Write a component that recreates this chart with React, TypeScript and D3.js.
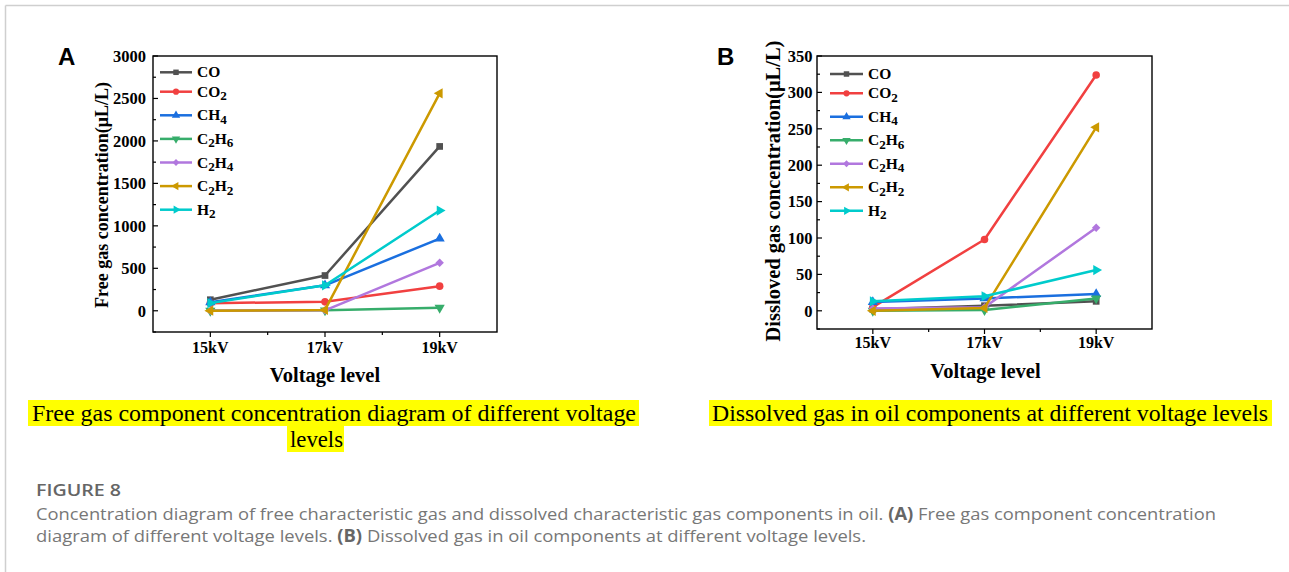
import React from 'react';
import * as d3 from 'd3';

// voltage levels (kV) and tick labels
const voltages = [15, 17, 19];
const xTickLabels = ['15kV', '17kV', '19kV'];
const gasNames = ['CO', 'CO2', 'CH4', 'C2H6', 'C2H4', 'C2H2', 'H2'];
const gasColors = ['#515151', '#F14040', '#1A6FDF', '#37AD6B', '#B177DE', '#CC9900', '#00CBCC'];

// free gas concentration (uL/L), panel A
const freeCO = [130, 415, 1935];
const freeCO2 = [90, 105, 290];
const freeCH4 = [100, 300, 850];
const freeC2H6 = [0, 5, 35];
const freeC2H4 = [0, 5, 565];
const freeC2H2 = [0, 10, 2560];
const freeH2 = [90, 300, 1180];
const freeYTicks = [0, 500, 1000, 1500, 2000, 2500, 3000];

// dissolved gas concentration (uL/L), panel B
const dissCO = [2, 7, 13];
const dissCO2 = [5, 98, 324];
const dissCH4 = [12, 17, 23];
const dissC2H6 = [0, 1, 17];
const dissC2H4 = [3, 5, 114];
const dissC2H2 = [0, 4, 252];
const dissH2 = [13, 20, 56];
const dissYTicks = [0, 50, 100, 150, 200, 250, 300, 350];

const freeSeries = [freeCO, freeCO2, freeCH4, freeC2H6, freeC2H4, freeC2H2, freeH2];
const dissSeries = [dissCO, dissCO2, dissCH4, dissC2H6, dissC2H4, dissC2H2, dissH2];

const serif = '"Liberation Serif", "Times New Roman", serif';

// marker: symbol type + rotation
const markers = [
  { type: d3.symbolSquare, rot: 0 },
  { type: d3.symbolCircle, rot: 0 },
  { type: d3.symbolTriangle, rot: 0 },
  { type: d3.symbolTriangle, rot: 180 },
  { type: d3.symbolDiamond2, rot: 0 },
  { type: d3.symbolTriangle, rot: -90 },
  { type: d3.symbolTriangle, rot: 90 },
];

function GasLabel({ name, x, y, size }) {
  // digits become subscripts
  const parts = name.match(/[A-Z][a-z]?|\d+/g) || [];
  let sub = false;
  return (
    <text x={x} y={y} fontFamily={serif} fontWeight="bold" fontSize={size}>
      {parts.map((p, i) => {
        const isNum = /\d/.test(p);
        const dy = isNum && !sub ? 3.5 : !isNum && sub ? -3.5 : 0;
        sub = isNum;
        return (
          <tspan key={i} dy={dy} fontSize={isNum ? size * 0.85 : size}>{p}</tspan>
        );
      })}
    </text>
  );
}

function Panel({ series, yDomain, yTicks, box, yTitle, yTitleSize, yTitlePos, xTitlePos, letter, letterX, legend, yLabelGap, xLabelBase }) {
  const x = d3.scaleLinear().domain([14, 20]).range([box.left, box.right]);
  const y = d3.scaleLinear().domain(yDomain).range([box.bottom, box.top]);
  const step = yTicks[1] - yTicks[0];
  const yMinor = d3.range(yDomain[0], yDomain[1] + 1, step / 2).filter(v => !yTicks.includes(v));
  const line = d3.line().x((d, i) => x(voltages[i])).y(d => y(d));

  return (
    <g>
      <text x={letterX} y={65} fontFamily='"Liberation Sans", Arial, sans-serif' fontWeight="bold" fontSize={24}>{letter}</text>

      {series.map((s, k) => (
        <g key={k}>
          <path d={line(s)} fill="none" stroke={gasColors[k]} strokeWidth={2.5} strokeLinejoin="round" />
          {s.map((v, i) => (
            <path key={i}
              d={d3.symbol().type(markers[k].type).size(45)()}
              transform={`translate(${x(voltages[i])},${y(v)}) rotate(${markers[k].rot})`}
              fill={gasColors[k]} />
          ))}
        </g>
      ))}

      {/* frame */}
      <rect x={box.left} y={box.top} width={box.right - box.left} height={box.bottom - box.top}
        fill="none" stroke="#000" strokeWidth={1.4} />

      {/* y ticks (inward) */}
      {yTicks.map(v => (
        <g key={v}>
          <line x1={box.left} x2={box.left + 5} y1={y(v)} y2={y(v)} stroke="#000" strokeWidth={1.2} />
          <text x={box.left - yLabelGap} y={y(v)} dy="0.35em" textAnchor="end" fontFamily={serif} fontWeight="bold" fontSize={16.5}>{v}</text>
        </g>
      ))}
      {yMinor.map(v => (
        <line key={'m' + v} x1={box.left} x2={box.left + 3} y1={y(v)} y2={y(v)} stroke="#000" strokeWidth={1.2} />
      ))}

      {/* x ticks (outward) */}
      {voltages.map((v, i) => (
        <g key={v}>
          <line x1={x(v)} x2={x(v)} y1={box.bottom} y2={box.bottom + 5} stroke="#000" strokeWidth={1.2} />
          <text x={x(v)} y={xLabelBase} textAnchor="middle" fontFamily={serif} fontWeight="bold" fontSize={16}>{xTickLabels[i]}</text>
        </g>
      ))}
      {[16, 18].map(v => (
        <line key={v} x1={x(v)} x2={x(v)} y1={box.bottom} y2={box.bottom + 3} stroke="#000" strokeWidth={1.2} />
      ))}

      <text transform={`translate(${yTitlePos[0]},${yTitlePos[1]}) rotate(-90)`} textAnchor="middle"
        fontFamily={serif} fontWeight="bold" fontSize={yTitleSize}>{yTitle}</text>
      <text x={xTitlePos[0]} y={xTitlePos[1]} textAnchor="middle" fontFamily={serif} fontWeight="bold" fontSize={20.5}>Voltage level</text>

      {/* legend */}
      {gasNames.map((name, k) => {
        const ly = k === 0 ? legend.y0 : legend.y1 + (k - 1) * legend.dy;
        const mx = (legend.x1 + legend.x2) / 2;
        return (
          <g key={name}>
            <line x1={legend.x1} x2={legend.x2} y1={ly} y2={ly} stroke={gasColors[k]} strokeWidth={2.5} />
            <path d={d3.symbol().type(markers[k].type).size(30)()}
              transform={`translate(${mx},${ly}) rotate(${markers[k].rot})`} fill={gasColors[k]} />
            <GasLabel name={name} x={legend.x2 + 5} y={ly + 5} size={15.5} />
          </g>
        );
      })}
    </g>
  );
}

export default function App() {
  const capFont = '"Open Sans", "Noto Sans", sans-serif';
  return (
    <svg width={1289} height={572} style={{ position: 'absolute', left: 0, top: 0, background: '#fff' }}>
      <line x1={5.5} x2={1289} y1={5.5} y2={5.5} stroke="#cfcfcf" strokeWidth={1.5} />
      <line x1={5.5} x2={5.5} y1={5.5} y2={572} stroke="#cfcfcf" strokeWidth={1.5} />

      <Panel series={freeSeries} yDomain={[-250, 3000]} yTicks={freeYTicks}
        box={{ left: 153, right: 497, top: 56, bottom: 332 }}
        yTitle="Free gas concentration(μL/L)" yTitleSize={18} yTitlePos={[108, 195]}
        xTitlePos={[325, 382]} letter="A" letterX={58}
        legend={{ x1: 160, x2: 192, y0: 72.3, y1: 91.7, dy: 23.6 }}
        yLabelGap={7} xLabelBase={352.5} />

      <Panel series={dissSeries} yDomain={[-25, 350]} yTicks={dissYTicks}
        box={{ left: 817, right: 1152, top: 56, bottom: 329 }}
        yTitle="Dissloved gas concentration(μL/L)" yTitleSize={20.5} yTitlePos={[780, 191]}
        xTitlePos={[985.5, 378]} letter="B" letterX={717}
        legend={{ x1: 830, x2: 863, y0: 74, y1: 93.3, dy: 23.5 }}
        yLabelGap={4.5} xLabelBase={348.3} />

      {/* highlighted sub-captions */}
      <rect x={28} y={400} width={611} height={26} fill="#ffff00" />
      <rect x={287} y={426} width={57} height={26} fill="#ffff00" />
      <rect x={709} y={400} width={563} height={26} fill="#ffff00" />
      <text x={32} y={420.5} fontFamily={serif} fontSize={24} textLength={604} lengthAdjust="spacingAndGlyphs">Free gas component concentration diagram of different voltage</text>
      <text x={290} y={447} fontFamily={serif} fontSize={24} textLength={53} lengthAdjust="spacingAndGlyphs">levels</text>
      <text x={712} y={420.5} fontFamily={serif} fontSize={24} textLength={556} lengthAdjust="spacingAndGlyphs">Dissolved gas in oil components at different voltage levels</text>

      {/* figure caption */}
      <text x={36} y={496} fontFamily={capFont} fontWeight={600} fontSize={17} fill="#666" textLength={85} lengthAdjust="spacingAndGlyphs">FIGURE 8</text>
      <text x={36} y={519.5} fontFamily={capFont} fontSize={17} fill="#777" textLength={1180} lengthAdjust="spacingAndGlyphs">
        Concentration diagram of free characteristic gas and dissolved characteristic gas components in oil. <tspan fontWeight="bold" fill="#666">(A)</tspan> Free gas component concentration
      </text>
      <text x={36} y={542} fontFamily={capFont} fontSize={17} fill="#777" textLength={830} lengthAdjust="spacingAndGlyphs">
        diagram of different voltage levels. <tspan fontWeight="bold" fill="#666">(B)</tspan> Dissolved gas in oil components at different voltage levels.
      </text>
    </svg>
  );
}
